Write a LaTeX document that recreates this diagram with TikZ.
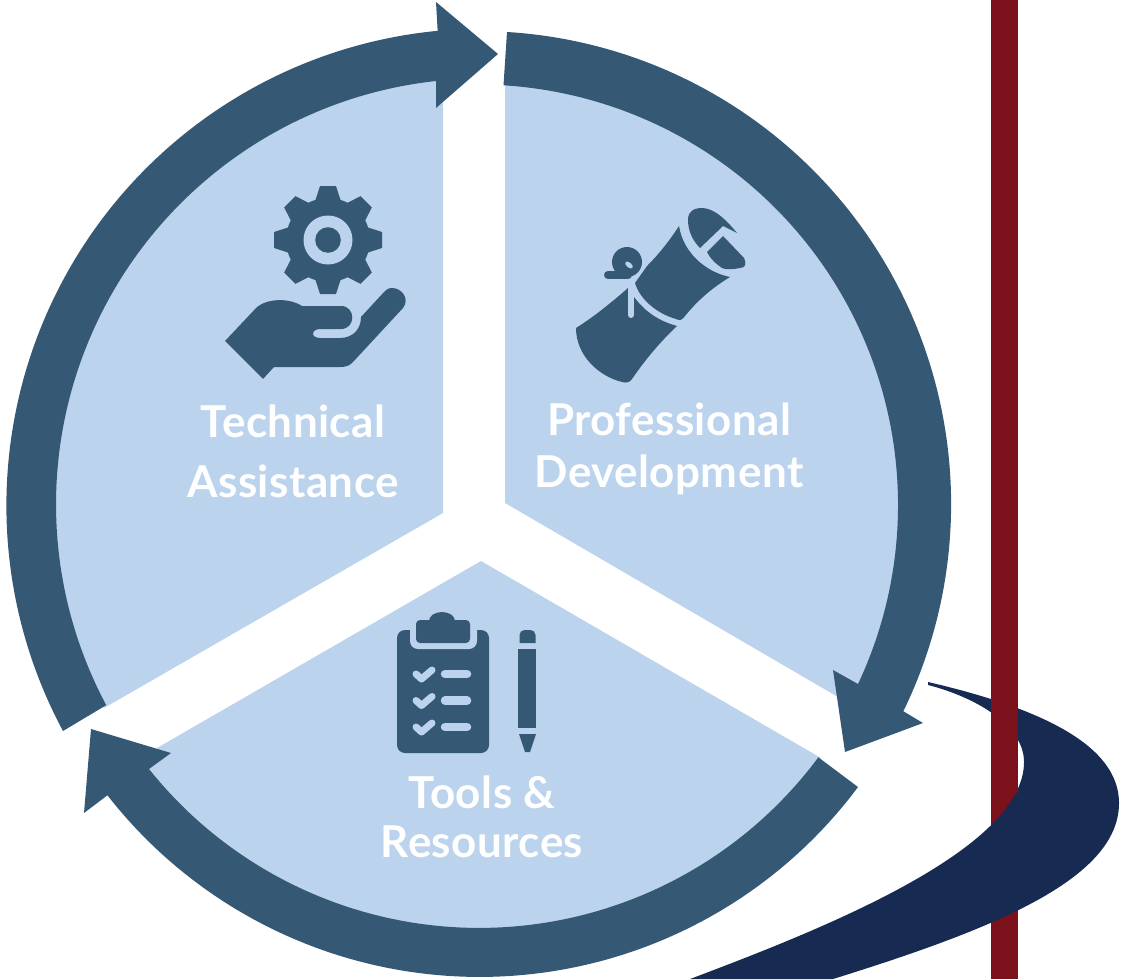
\documentclass[tikz,border=0pt]{standalone}
\usepackage{fontspec}
\setmainfont{Lato}
\usepackage{xcolor}
\definecolor{ringblue}{HTML}{355875}
\definecolor{sectorblue}{HTML}{BCD3EE}
\definecolor{barred}{HTML}{7A111B}
\definecolor{swooshblue}{HTML}{162A52}
\tikzset{
  sector/.style={fill=sectorblue},
  ring/.style={fill=ringblue},
  icon/.style={fill=ringblue},
  cut/.style={fill=sectorblue},
  ribbon/.style={draw=sectorblue,line cap=round},
  title/.style={text=white,inner sep=0pt,anchor=base,font=\fontsize{12.5}{15}\addfontfeature{LetterSpace=1}\bfseries}
}
\begin{document}
\begin{tikzpicture}[x=0.01cm,y=-0.01cm]
\useasboundingbox (0,0) rectangle (1122,979);

% sectors
\fill[sector] (443,513) -- (104,708) arc[start angle=151.7,end angle=264.79,radius=429.3] -- cycle;
\fill[sector] (505,503) -- (838,697) -- (861,686) arc[start angle=25.27,end angle=-86.28,radius=424.1] -- cycle;
\fill[sector] (481,561) -- (821,758) arc[start angle=36.5,end angle=141.4,radius=425.2] -- (157,748) -- cycle;

% ring arrows
\fill[ring] (63,731) arc[start angle=151.8,end angle=264.5,radius=477] -- (436,2) -- (498,54) -- (436,108) -- (436,81) arc[start angle=263.8,end angle=151.9,radius=426] -- cycle;
\fill[ring] (507,32) arc[start angle=-86.5,end angle=25.97,radius=473] -- (923,723) -- (845,752) -- (833,670) -- (858,684) arc[start angle=25.2,end angle=-86.46,radius=420.5] -- cycle;
\fill[ring] (858,787) arc[start angle=36.7,end angle=142.04,radius=472] -- (84,813) -- (91,729) -- (171,753) -- (149,769) arc[start angle=141.4,end angle=36.6,radius=422.5] -- cycle;

% bar and swoosh
\fill[barred] (991,0) rectangle (1018,979);
\fill[swooshblue] (928,682) .. controls (1040,708) and (1119,745) .. (1119,803) .. controls (1119,880) and (990,930) .. (833,979) -- (690,979) .. controls (820,930) and (1024,850) .. (1024,762) .. controls (1024,725) and (975,697) .. (928,685) -- cycle;
\fill[barred] (991,0) rectangle (1018,793);

% gear
\foreach \a in {0,45,...,315}
  \fill[icon,shift={(328,240)},rotate=\a] (-8,-54) -- (8,-54) -- (12.5,-40) -- (-12.5,-40) -- cycle;
\fill[icon] (328,240) circle (42);
\fill[cut] (328,240) circle (24.5);
\fill[icon] (328,240) circle (12.8);

% hand
\fill[icon] (225,341) -- (263,379) -- (274,367) -- (341,367) .. controls (347,367) and (350,365) .. (353,362) -- (403,308) .. controls (410,299) and (402,288) .. (392,288) .. controls (388,288) and (386,290) .. (384,292) -- (361,317) .. controls (361,330) and (352,338) .. (340,338) -- (320,338) .. controls (316,338) and (313,336) .. (313,334) .. controls (313,331) and (316,329) .. (320,329) -- (341,329) .. controls (356,329) and (356,306) .. (341,306) -- (302,306) .. controls (290,298) and (268,298) .. (257,307) -- cycle;

% scroll
\fill[icon] (576,328) .. controls (595,316) and (612,302) .. (628,288) .. controls (640,308) and (655,320) .. (677,326) .. controls (660,342) and (645,360) .. (632,379) .. controls (629,383) and (626,383) .. (622,382) .. controls (598,376) and (576,355) .. (576,328) -- cycle;
\fill[icon] (647,266) .. controls (659,254) and (670,240) .. (679,226) .. controls (683,252) and (705,272) .. (730,277) .. controls (712,288) and (698,300) .. (685,316) .. controls (682,320) and (680,321) .. (676,319) .. controls (658,314) and (640,300) .. (635,283) -- cycle;
\fill[icon] (627,262) circle (15);
\fill[cut,rotate around={-40:(629,265)}] (629,265) ellipse (4.5 and 2.5);
\draw[ribbon,line width=0.08cm,draw=ringblue] (608,275) -- (628,275);
\draw[ribbon,line width=0.06cm] (631,286) -- (631,315);
\fill[icon] (688,220) .. controls (688,210) and (695,208) .. (703,208) .. controls (716,209) and (728,222) .. (737,233) -- (723,226) -- (700,248) .. controls (692,240) and (688,230) .. (688,220) -- cycle;
\fill[icon] (723,236) -- (744,258) .. controls (747,264) and (745,268) .. (740,268) .. controls (730,270) and (722,270) .. (718,265) .. controls (714,262) and (710,258) .. (707,252) -- cycle;

% clipboard
\fill[icon] (397,638) arc[start angle=180,end angle=270,radius=8] -- (481,630) arc[start angle=270,end angle=360,radius=8] -- (489,745) arc[start angle=0,end angle=90,radius=8] -- (405,753) arc[start angle=90,end angle=180,radius=8] -- cycle;
\fill[cut,rounded corners=0.08cm] (410,622) rectangle (477,649);
\fill[icon,rounded corners=0.04cm] (416,620) rectangle (470,643);
\fill[icon] (442,621) ellipse (13 and 9);
\foreach \y in {0,26.5,53}{
  \draw[ribbon,line width=0.07cm,line join=round] (416,{674+\y}) -- (421.5,{679+\y}) -- (432,{670+\y});
  \draw[ribbon,line width=0.085cm] (445,{674+\y}) -- (467,{674+\y});
}

% pencil
\fill[icon] (519.5,643) -- (519.5,635) arc[start angle=180,end angle=270,radius=5] -- (530.5,630) arc[start angle=270,end angle=360,radius=5] -- (535.5,643) -- cycle;
\fill[icon] (518,649) rectangle (536,728);
\fill[icon] (519,734) -- (536,734) -- (530,752) -- (525,752) -- cycle;

% labels
\node[title] (technical) at (293,437) {Technical};
\node[title] (assistance) at (293,497) {Assistance};
\node[title] (professional) at (669,435) {Professional};
\node[title] (development) at (669,487) {Development};
\node[title] (tools) at (482,808) {Tools \&};
\node[title] (resources) at (482,857) {Resources};
\end{tikzpicture}
\end{document}
